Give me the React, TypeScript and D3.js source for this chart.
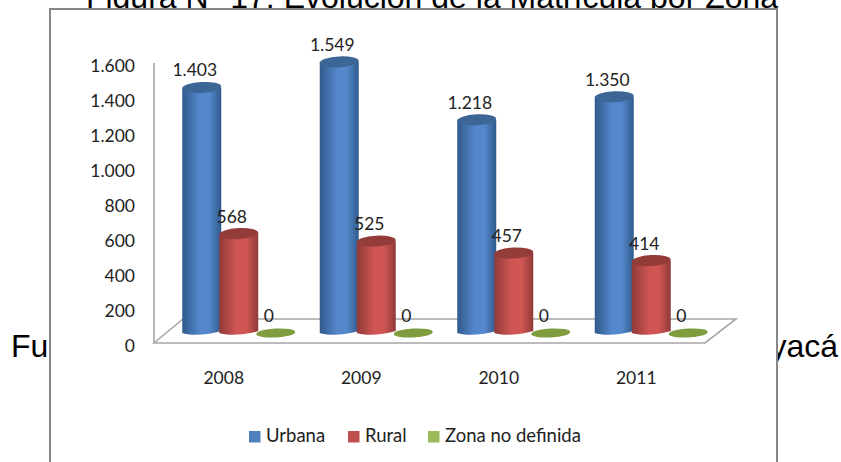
import React, { useEffect, useRef } from "react";
import * as d3 from "d3";

const years = ["2008", "2009", "2010", "2011"];
const seriesNames = ["Urbana", "Rural", "Zona no definida"];
const urbana = [1403, 1549, 1218, 1350];
const rural = [568, 525, 457, 414];
const noDefinida = [0, 0, 0, 0];
const yTicks = [0, 200, 400, 600, 800, 1000, 1200, 1400, 1600];
const colors = [
  { edge: "#2f5a8c", mid: "#5487cb", top: "#3c6696", swatch: "#4f81bd" },
  { edge: "#8f3a38", mid: "#d05654", top: "#943c3a", swatch: "#c0504d" },
  { edge: "#7f9c3e", mid: "#7f9c3e", top: "#7f9c3e", swatch: "#9bbb59" },
];

const width = 841;
const height = 462;
const chartFont = "Lato, 'Open Sans', sans-serif";
const outerFont = "'Liberation Sans', Arial, sans-serif";
const labelSize = 17.5;

const App = () => {
  const svgRef = useRef<SVGSVGElement>(null);

  useEffect(() => {
    const svg = d3.select(svgRef.current);
    svg.selectAll("*").remove();

    // floor corners of the fake 3d plot
    const floor = { left: 155, right: 705, depthX: 31, depthY: 24 };
    const depthLift = 10; // bars stand a bit behind the front edge

    const x = d3.scaleBand().domain(years).range([floor.left, floor.right]);
    const y = d3.scaleLinear().domain([0, 1600]).range([343, 63]);
    const inner = d3
      .scaleBand()
      .domain(seriesNames)
      .range([x.bandwidth() / 2 - 55.5 + 15, x.bandwidth() / 2 + 55.5 + 15]);
    const barW = 39;
    const ry = 5.5;

    const locale = d3.formatLocale({
      decimal: ",",
      thousands: ".",
      grouping: [3],
      currency: ["", ""],
    });
    const fmt = locale.format(",d");

    // gradients for the cylinders
    const defs = svg.append("defs");
    colors.forEach((c, i) => {
      const g = defs.append("linearGradient").attr("id", `cyl${i}`);
      g.append("stop").attr("offset", "0%").attr("stop-color", c.edge);
      g.append("stop").attr("offset", "45%").attr("stop-color", c.mid);
      g.append("stop").attr("offset", "70%").attr("stop-color", c.mid);
      g.append("stop").attr("offset", "100%").attr("stop-color", c.edge);
    });

    // page text behind the chart
    svg
      .append("text")
      .attr("x", 432)
      .attr("y", 8)
      .attr("text-anchor", "middle")
      .attr("font-family", outerFont)
      .attr("font-size", 32)
      .attr("fill", "#000")
      .text("Figura N° 17: Evolución de la Matrícula por Zona");
    svg
      .append("text")
      .attr("x", 11)
      .attr("y", 357)
      .attr("font-family", outerFont)
      .attr("font-size", 32)
      .attr("fill", "#000")
      .text("Fu");
    svg
      .append("text")
      .attr("x", 838)
      .attr("y", 357)
      .attr("text-anchor", "end")
      .attr("font-family", outerFont)
      .attr("font-size", 32)
      .attr("fill", "#000")
      .text("yacá");

    // chart frame, open at the bottom of the picture
    svg
      .append("rect")
      .attr("x", 50)
      .attr("y", 9)
      .attr("width", 727)
      .attr("height", height + 20)
      .attr("fill", "#fff")
      .attr("stroke", "#868686")
      .attr("stroke-width", 2);

    // wall line and floor
    svg
      .append("line")
      .attr("x1", floor.left - 1)
      .attr("x2", floor.left - 1)
      .attr("y1", y(1600))
      .attr("y2", y(0))
      .attr("stroke", "#a6a6a6")
      .attr("stroke-width", 1.6);
    const bottomY = y(0);
    svg
      .append("path")
      .attr(
        "d",
        d3.line()([
          [floor.left - 1, bottomY],
          [floor.left - 1 + floor.depthX - 2, bottomY - floor.depthY],
          [floor.right + floor.depthX, bottomY - floor.depthY],
          [floor.right, bottomY],
        ]) + "Z"
      )
      .attr("fill", "#fff")
      .attr("stroke", "#a6a6a6")
      .attr("stroke-width", 1.6);

    // y axis labels
    const axis = svg
      .append("g")
      .attr("transform", `translate(${floor.left - 17},3)`)
      .call(
        d3
          .axisLeft(y)
          .tickValues(yTicks)
          .tickSize(0)
          .tickFormat((d) => fmt(d as number))
      );
    axis.select(".domain").remove();
    axis
      .selectAll("text")
      .attr("font-family", chartFont)
      .attr("font-size", labelSize)
      .attr("fill", "#222");

    // x axis labels
    const xAxis = svg
      .append("g")
      .attr("transform", "translate(0,369)")
      .call(d3.axisBottom(x).tickSize(0));
    xAxis.select(".domain").remove();
    xAxis
      .selectAll("text")
      .attr("font-family", chartFont)
      .attr("font-size", labelSize)
      .attr("fill", "#222");

    const allSeries = [urbana, rural, noDefinida];

    // cylinders, drawn year by year so red overlaps blue
    years.forEach((year, yi) => {
      seriesNames.forEach((name, si) => {
        const value = allSeries[si][yi];
        const cx = x(year)! + inner(name)! + inner.bandwidth() / 2;
        const base = y(0) - depthLift;
        const top = y(value) - depthLift;
        const g = svg.append("g");

        if (value > 0) {
          const body = d3.path();
          body.moveTo(cx - barW / 2, top);
          body.lineTo(cx - barW / 2, base);
          body.bezierCurveTo(
            cx - barW / 2 + 8, base + 3,
            cx + barW / 2 - 12, base + 2,
            cx + barW / 2, base - 2
          );
          body.lineTo(cx + barW / 2, top);
          body.closePath();
          g.append("path")
            .attr("d", body.toString())
            .attr("fill", `url(#cyl${si})`);
        }
        g.append("ellipse")
          .attr("cx", cx)
          .attr("cy", top)
          .attr("rx", barW / 2)
          .attr("ry", value > 0 ? ry : 4.5)
          .attr("transform", `rotate(-3 ${cx} ${top})`)
          .attr("fill", colors[si].top);
      });
    });

    // value labels on top of everything
    years.forEach((year, yi) => {
      seriesNames.forEach((name, si) => {
        const value = allSeries[si][yi];
        svg
          .append("text")
          .attr("x", x(year)! + inner(name)! + inner.bandwidth() / 2 - 7)
          .attr("y", y(value) - depthLift - 11)
          .attr("text-anchor", "middle")
          .attr("font-family", chartFont)
          .attr("font-size", labelSize)
          .attr("fill", "#222")
          .text(fmt(value));
      });
    });

    // legend
    const legendX = [249, 348, 428];
    seriesNames.forEach((name, i) => {
      svg
        .append("rect")
        .attr("x", legendX[i])
        .attr("y", 431)
        .attr("width", 11.5)
        .attr("height", 11.5)
        .attr("fill", colors[i].swatch);
      svg
        .append("text")
        .attr("x", legendX[i] + 17)
        .attr("y", 442)
        .attr("font-family", chartFont)
        .attr("font-size", 18.5)
        .attr("fill", "#222")
        .text(name);
    });
  }, []);

  return (
    <svg
      ref={svgRef}
      width={width}
      height={height}
      style={{ position: "absolute", left: 0, top: 0, display: "block" }}
    />
  );
};

export default App;
